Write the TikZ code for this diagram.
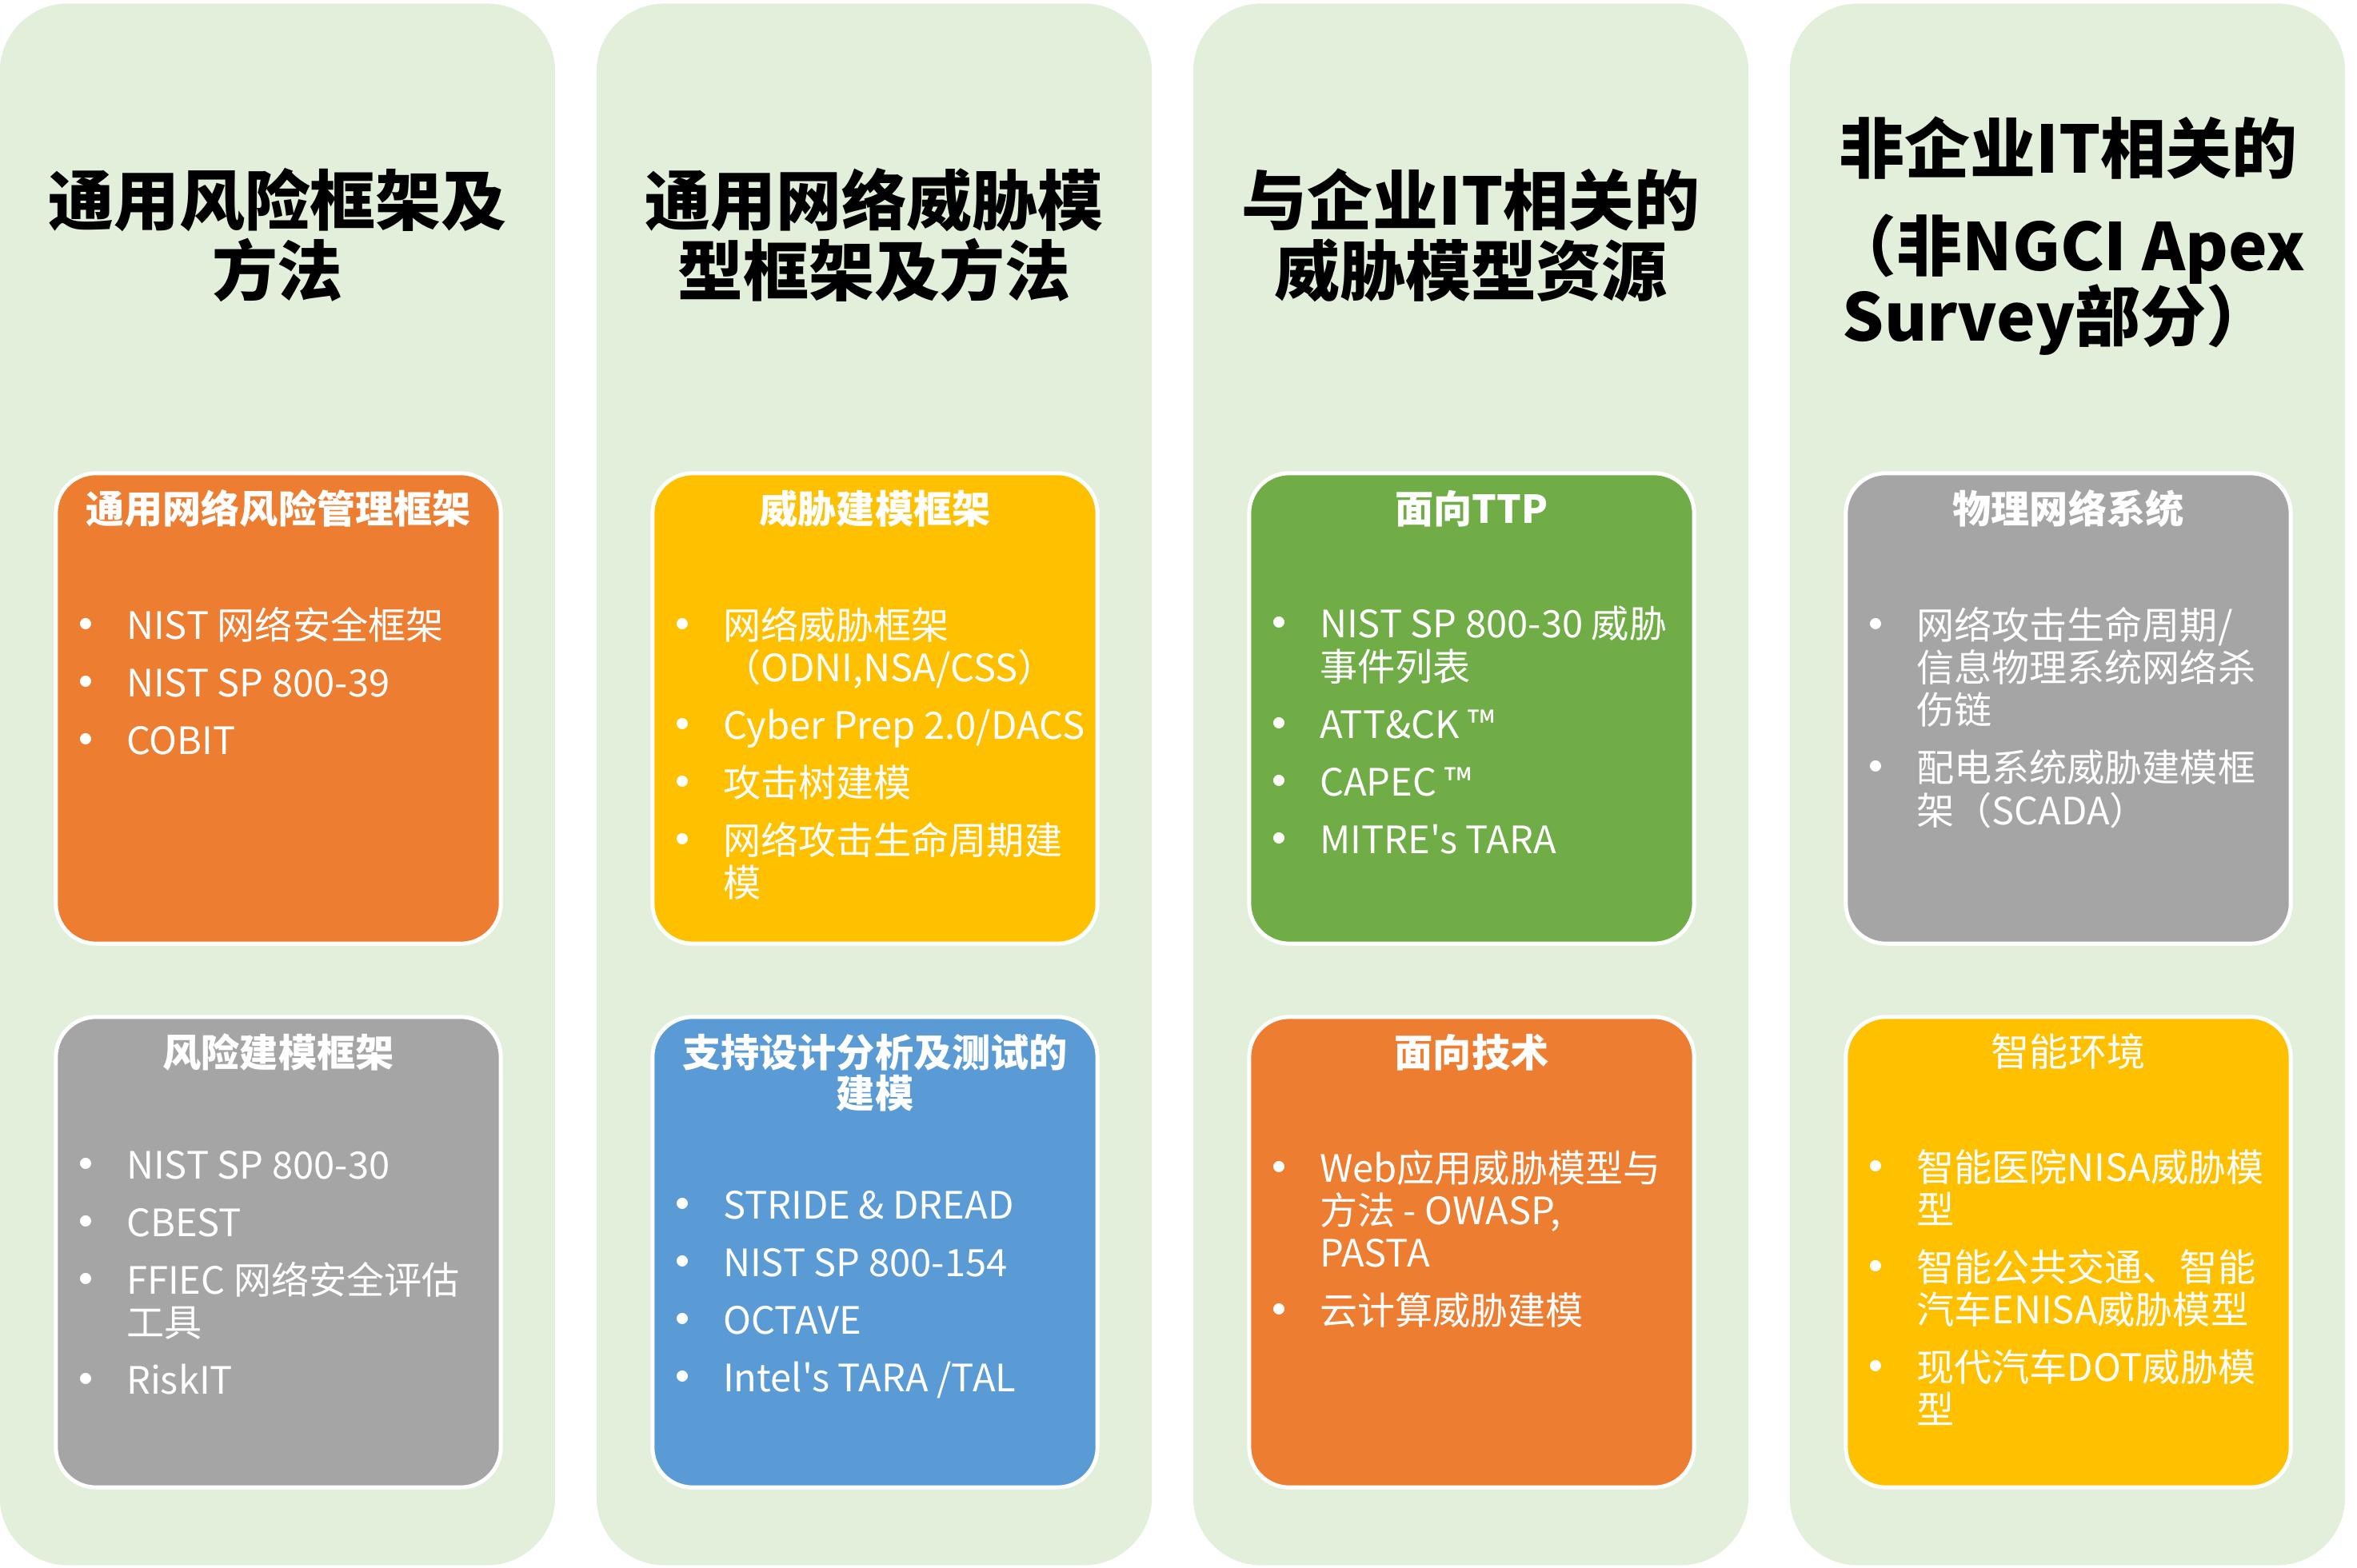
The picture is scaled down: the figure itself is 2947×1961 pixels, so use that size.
\documentclass[tikz,border=0pt]{standalone}
\usepackage{fontspec}
\newfontfamily\cjk{Noto Sans CJK SC}
\usetikzlibrary{positioning}
\definecolor{paleg}{HTML}{E2EFDA}
\definecolor{orng}{HTML}{ED7D31}
\definecolor{gold}{HTML}{FFC000}
\definecolor{leaf}{HTML}{70AD47}
\definecolor{slate}{HTML}{A5A5A5}
\definecolor{sky}{HTML}{5B9BD5}
\newcommand{\bul}{\makebox[0.55cm][l]{\hspace*{-0.29cm}\raisebox{-0.06cm}{\scalebox{1.4}{•}}}}
\newcommand{\cont}{\hspace*{0.55cm}}

\begin{document}
\begin{tikzpicture}[x=0.01cm,y=-0.01cm,
  lane/.style={fill=paleg,rounded corners=0.85cm,minimum width=6.94cm,
    minimum height=19.52cm,inner sep=0pt},
  lanehead/.style={font=\cjk\bfseries\fontsize{23.3}{25}\selectfont,
    align=center,inner sep=0pt},
  card/.style={draw=white,line width=0.05cm,rounded corners=0.5cm,
    minimum width=5.56cm,minimum height=5.88cm,inner sep=0pt},
  cardhead/.style={text=white,font=\cjk\bfseries\fontsize{13.7}{14.5}\selectfont,
    align=center,inner sep=0pt},
  itembox/.style={text=white,font=\cjk\fontsize{13.4}{15.1}\selectfont,
    align=left,inner sep=0pt,anchor=north west,xshift=0.35cm,yshift=-0.98cm}]
  \useasboundingbox (0,0) rectangle (2947,1961);

  % lanes and their titles
  \node[lane] (c1) at (347,981) {};
  \node[lane] (c2) at (1093,981) {};
  \node[lane] (c3) at (1839,981) {};
  \node[lane] (c4) at (2585,981) {};
  \node[lanehead] (t1) at (347,294) {通用风险框架及\\方法};
  \node[lanehead] (t2) at (1093,294) {通用网络威胁模\\型框架及方法};
  \node[lanehead] (t3) at (1839,294) {与企业IT相关的\\威胁模型资源};
  \node[lanehead] (t4) at (2586,295)
    {非企业IT相关的\\[9.7pt]（非NGCI Apex\\Survey部分）\hspace*{0.28cm}};

  % cards
  \node[card,fill=orng] (b11) at (348,886) {};
  \node[card,fill=slate] (b12) at (348,1566) {};
  \node[card,fill=gold] (b21) at (1094,886) {};
  \node[card,fill=sky] (b22) at (1094,1566) {};
  \node[card,fill=leaf] (b31) at (1840,886) {};
  \node[card,fill=orng] (b32) at (1840,1566) {};
  \node[card,fill=slate] (b41) at (2586,886) {};
  \node[card,fill=gold] (b42) at (2586,1566) {};

  % card headings
  \node[cardhead,below=0.23cm of b11.north] (h11) {通用网络风险管理框架};
  \node[cardhead,below=0.23cm of b12.north] (h12) {风险建模框架};
  \node[cardhead,below=0.23cm of b21.north] (h21) {威胁建模框架};
  \node[cardhead,below=0.23cm of b22.north] (h22) {支持设计分析及测试的\\建模};
  \node[cardhead,below=0.23cm of b31.north] (h31) {面向TTP};
  \node[cardhead,below=0.23cm of b32.north] (h32) {面向技术};
  \node[cardhead,below=0.23cm of b41.north] (h41) {物理网络系统};
  \node[cardhead,font=\cjk\fontsize{13.7}{14.5}\selectfont,
    below=0.23cm of b42.north] (h42) {智能环境};

  % card items
  \node[itembox] (l11) at (b11.west |- h11.south)
    {\bul NIST 网络安全框架\\[5.4pt]\bul NIST SP 800-39\\[5.4pt]\bul COBIT};
  \node[itembox] (l12) at (b12.west |- h12.south)
    {\bul NIST SP 800-30\\[5.4pt]\bul CBEST\\[5.4pt]\bul FFIEC 网络安全评估\\
     \cont 工具\\[5.4pt]\bul RiskIT};
  \node[itembox] (l21) at (b21.west |- h21.south)
    {\bul 网络威胁框架\\\cont （ODNI,NSA/CSS）\\[5.4pt]\bul Cyber Prep 2.0/DACS\\[5.4pt]
     \bul 攻击树建模\\[5.4pt]\bul 网络攻击生命周期建\\\cont 模};
  \node[itembox] (l22) at (b22.west |- h22.south)
    {\bul STRIDE \& DREAD\\[5.4pt]\bul NIST SP 800-154\\[5.4pt]\bul OCTAVE\\[5.4pt]
     \bul Intel's TARA /TAL};
  \node[itembox] (l31) at (b31.west |- h31.south)
    {\bul NIST SP 800-30 威胁\\\cont 事件列表\\[5.4pt]\bul ATT\&CK ™\\[5.4pt]
     \bul CAPEC ™\\[5.4pt]\bul MITRE's TARA};
  \node[itembox] (l32) at (b32.west |- h32.south)
    {\bul Web应用威胁模型与\\\cont 方法 - OWASP,\\\cont PASTA\\[5.4pt]\bul 云计算威胁建模};
  \node[itembox] (l41) at (b41.west |- h41.south)
    {\bul 网络攻击生命周期/\\\cont 信息物理系统网络杀\\\cont 伤链\\[5.4pt]
     \bul 配电系统威胁建模框\\\cont 架（SCADA）};
  \node[itembox] (l42) at (b42.west |- h42.south)
    {\bul 智能医院NISA威胁模\\\cont 型\\[5.4pt]\bul 智能公共交通、智能\\
     \cont 汽车ENISA威胁模型\\[5.4pt]\bul 现代汽车DOT威胁模\\\cont 型};
\end{tikzpicture}
\end{document}
